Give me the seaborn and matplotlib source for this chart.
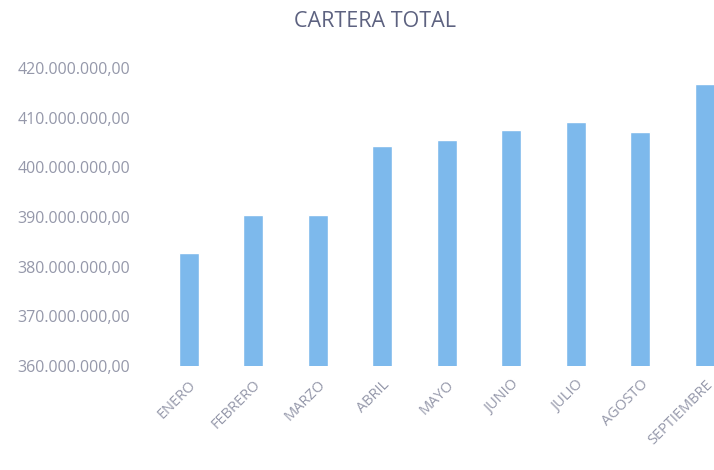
import pandas as pd
import seaborn as sns
import matplotlib.pyplot as plt
from matplotlib.ticker import FuncFormatter

# monthly totals
meses = ["ENERO", "FEBRERO", "MARZO", "ABRIL", "MAYO", "JUNIO", "JULIO", "AGOSTO", "SEPTIEMBRE"]
cartera = [382.8e6, 390.5e6, 390.5e6, 404.3e6, 405.5e6, 407.5e6, 409.2e6, 407.2e6, 416.8e6]
y_ticks = [360e6, 370e6, 380e6, 390e6, 400e6, 410e6, 420e6]

df = pd.DataFrame({"mes": meses, "cartera": cartera})

sns.set_theme(style="white")
plt.rcParams["font.family"] = ["Open Sans", "DejaVu Sans"]

fig = plt.figure(figsize=(7.14, 4.70), dpi=100)
ax = fig.add_axes([0.21, 0.221, 0.79, 0.634])

sns.barplot(data=df, x="mes", y="cartera", ax=ax, color="#7db9ec",
            saturation=1, width=0.31)

ax.set_ylim(360e6, 420e6)
ax.set_xlim(-0.6, 8.14)
ax.set_yticks(y_ticks)


def fmt_es(v, pos):
    # 420000000 -> 420.000.000,00
    return f"{v:,.2f}".replace(",", "X").replace(".", ",").replace("X", ".")


ax.yaxis.set_major_formatter(FuncFormatter(fmt_es))
ax.tick_params(axis="y", labelsize=11.5, labelcolor="#9598aa", length=0, pad=14)
ax.tick_params(axis="x", labelsize=10.5, labelcolor="#9598aa", length=0, pad=8)
for lbl in ax.get_xticklabels():
    lbl.set_rotation(45)
    lbl.set_ha("right")
    lbl.set_va("top")
    lbl.set_rotation_mode("anchor")

ax.set_xlabel("")
ax.set_ylabel("")
sns.despine(left=True, bottom=True)

fig.text(0.525, 0.955, "CARTERA TOTAL", ha="center", va="center",
         fontsize=15.5, color="#5d6280")

fig.savefig("out.png", dpi=100)
